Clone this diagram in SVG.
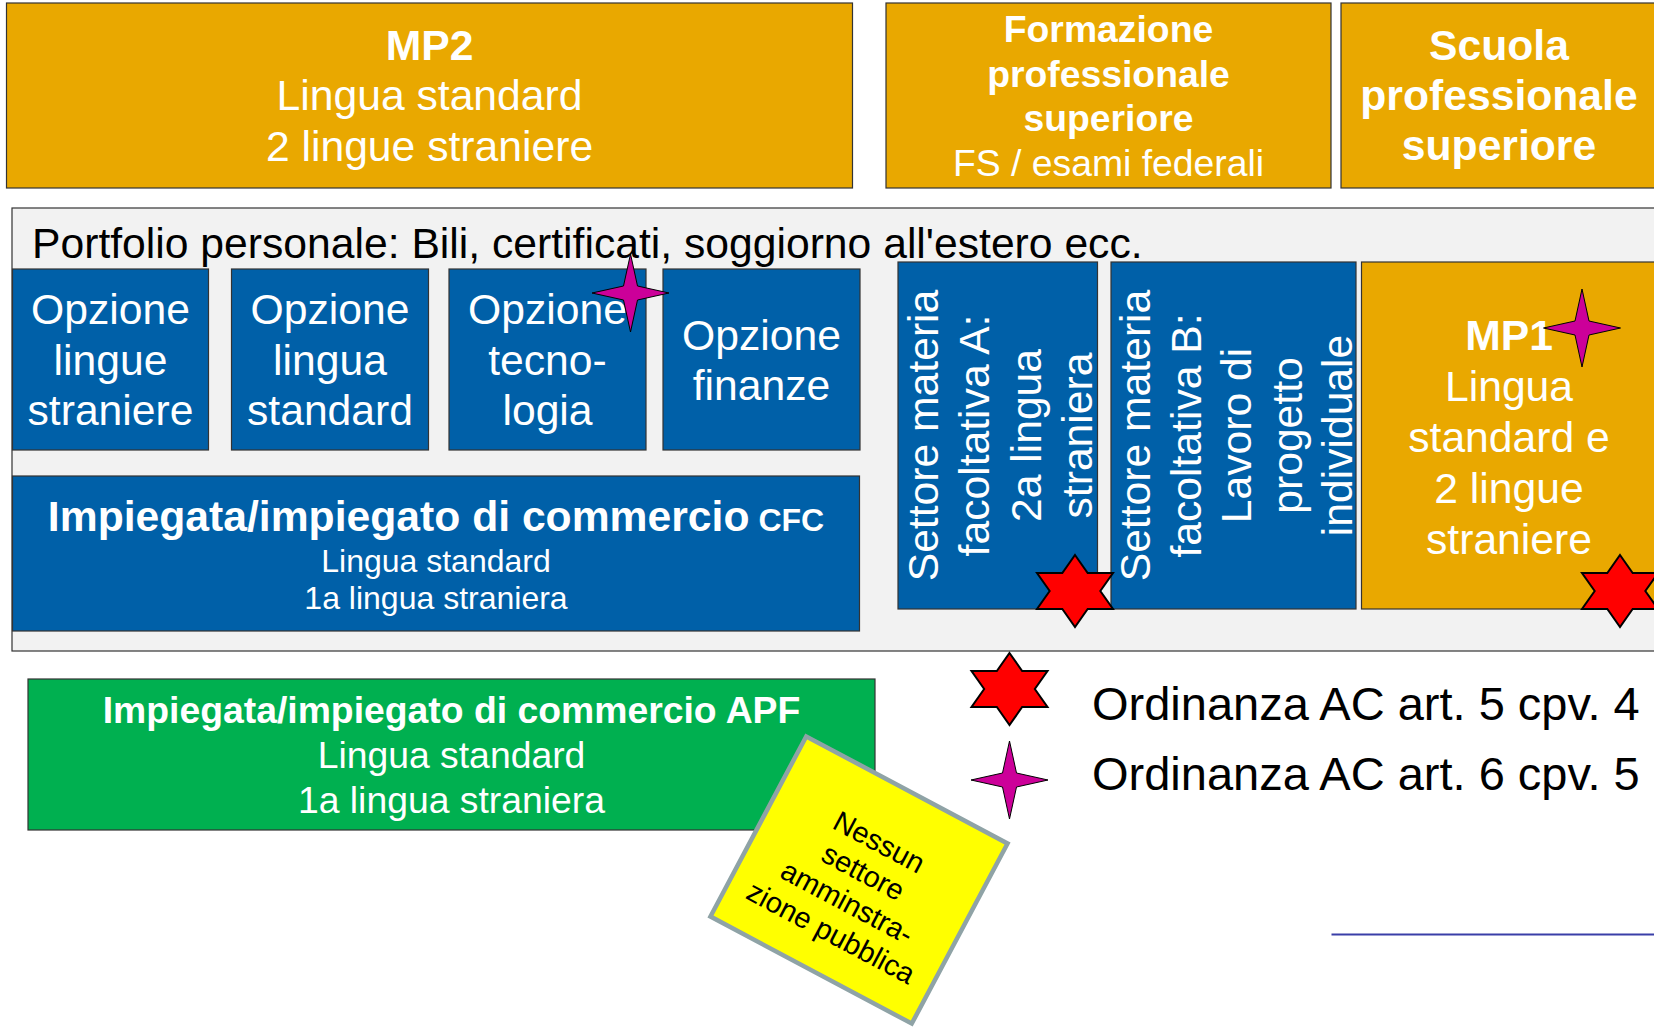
<svg xmlns="http://www.w3.org/2000/svg" width="1654" height="1027" viewBox="0 0 1654 1027">
<style>
text{font-family:"Liberation Sans",Arial,sans-serif;}
.box{stroke:#333;stroke-width:1.2;}
.or{fill:#E9A800;}
.bl{fill:#0060A8;}
.gr{fill:#00B050;}
.w{fill:#fff;text-anchor:middle;}
.b{font-weight:bold;}
.s43{font-size:42.67px;}
.s37{font-size:37.33px;}
.s32{font-size:32px;}
.red{fill:#FF0000;stroke:#000;stroke-width:2;stroke-linejoin:miter;}
.mag{fill:#CC0099;stroke:#000;stroke-width:1;}
</style>
<defs>
<path id="star6" d="M0,-36 L12.67,-18 L38,-18 L25.33,0 L38,18 L12.67,18 L0,36 L-12.67,18 L-38,18 L-25.33,0 L-38,-18 L-12.67,-18 Z"/>
<path id="star4" d="M0,-39 L7,-7 L38.5,0 L7,7 L0,39 L-7,7 L-38.5,0 L-7,-7 Z"/>
</defs>

<g id="mp2">
<rect class="box or" x="6.5" y="3" width="846" height="185"/>
<text class="w s43" x="429.5"><tspan class="b" x="429.5" y="60">MP2</tspan><tspan x="429.5" y="110">Lingua standard</tspan><tspan x="429.5" y="161">2 lingue straniere</tspan></text>
</g>

<g id="formazione">
<rect class="box or" x="886" y="3" width="445" height="185"/>
<text class="w s37" x="1108.5"><tspan class="b" x="1108.5" y="42">Formazione</tspan><tspan class="b" x="1108.5" y="86.5">professionale</tspan><tspan class="b" x="1108.5" y="131">superiore</tspan><tspan x="1108.5" y="175.5">FS / esami federali</tspan></text>
</g>

<g id="scuola">
<rect class="box or" x="1341" y="3" width="318" height="185"/>
<text class="w s43 b" x="1499"><tspan x="1499" y="60">Scuola</tspan><tspan x="1499" y="110">professionale</tspan><tspan x="1499" y="160">superiore</tspan></text>
</g>

<g id="portfolio">
<rect class="box" fill="#F2F2F2" x="12" y="208" width="1650" height="443"/>
<text class="s43" x="32" y="258" fill="#000">Portfolio personale: Bili, certificati, soggiorno all'estero ecc.</text>
</g>

<g id="opzione-lingue-straniere">
<rect class="box bl" x="12.5" y="269" width="196" height="181"/>
<text class="w s43"><tspan x="110.5" y="324">Opzione</tspan><tspan x="110.5" y="375">lingue</tspan><tspan x="110.5" y="425">straniere</tspan></text>
</g>

<g id="opzione-lingua-standard">
<rect class="box bl" x="231.5" y="269" width="197" height="181"/>
<text class="w s43"><tspan x="330" y="324">Opzione</tspan><tspan x="330" y="375">lingua</tspan><tspan x="330" y="425">standard</tspan></text>
</g>

<g id="opzione-tecnologia">
<rect class="box bl" x="449" y="269" width="197" height="181"/>
<text class="w s43"><tspan x="547.5" y="324">Opzione</tspan><tspan x="547.5" y="375">tecno-</tspan><tspan x="547.5" y="425">logia</tspan></text>
</g>

<g id="opzione-finanze">
<rect class="box bl" x="663" y="269" width="197" height="181"/>
<text class="w s43"><tspan x="761.5" y="350">Opzione</tspan><tspan x="761.5" y="400">finanze</tspan></text>
</g>

<g id="cfc">
<rect class="box bl" x="12.5" y="476" width="847" height="155"/>
<text class="w b" x="436" y="531"><tspan class="s43">Impiegata/impiegato di commercio</tspan><tspan class="s32"> CFC</tspan></text>
<text class="w s32"><tspan x="436" y="572">Lingua standard</tspan><tspan x="436" y="609">1a lingua straniera</tspan></text>
</g>

<g id="settore-a">
<rect class="box bl" x="898" y="262" width="199.5" height="347"/>
<text class="w s43" transform="translate(937.5,435.5) rotate(-90)" x="0" y="0">Settore materia</text>
<text class="w s43" transform="translate(989,435.5) rotate(-90)" x="0" y="0">facoltativa A:</text>
<text class="w s43" transform="translate(1040.5,435.5) rotate(-90)" x="0" y="0">2a lingua</text>
<text class="w s43" transform="translate(1092,435.5) rotate(-90)" x="0" y="0">straniera</text>
</g>

<g id="settore-b">
<rect class="box bl" x="1111" y="262" width="245" height="347"/>
<text class="w s43" transform="translate(1150,435.5) rotate(-90)" x="0" y="0">Settore materia</text>
<text class="w s43" transform="translate(1200.5,435.5) rotate(-90)" x="0" y="0">facoltativa B:</text>
<text class="w s43" transform="translate(1251,435.5) rotate(-90)" x="0" y="0">Lavoro di</text>
<text class="w s43" transform="translate(1301.5,435.5) rotate(-90)" x="0" y="0">progetto</text>
<text class="w s43" transform="translate(1352,435.5) rotate(-90)" x="0" y="0">individuale</text>
</g>

<g id="mp1">
<rect class="box or" x="1361.5" y="262" width="296" height="347"/>
<text class="w s43"><tspan class="b" x="1509" y="349.5">MP1</tspan><tspan x="1509" y="400.5">Lingua</tspan><tspan x="1509" y="451.5">standard e</tspan><tspan x="1509" y="502.5">2 lingue</tspan><tspan x="1509" y="553.5">straniere</tspan></text>
</g>

<g id="apf">
<rect class="box gr" x="28" y="679" width="847" height="151"/>
<text class="w s37"><tspan class="b" x="451.5" y="723">Impiegata/impiegato di commercio APF</tspan><tspan x="451.5" y="768">Lingua standard</tspan><tspan x="451.5" y="813">1a lingua straniera</tspan></text>
</g>

<g id="nota">
<g transform="translate(859,880) rotate(28)">
<rect x="-114" y="-102" width="228" height="204" fill="#FFFF00" stroke="#8FA3A6" stroke-width="4.5"/>
<text font-size="29" fill="#000" text-anchor="middle"><tspan x="0" y="-33">Nessun</tspan><tspan x="0" y="1">settore</tspan><tspan x="0" y="35">amminstra-</tspan><tspan x="0" y="69.5">zione pubblica</tspan></text>
</g>
</g>

<g id="stelle">
<use href="#star4" class="mag" transform="translate(630.5,293)"/>
<use href="#star4" class="mag" transform="translate(1582,328)"/>
<use href="#star6" class="red" transform="translate(1075,591)"/>
<use href="#star6" class="red" transform="translate(1620,591)"/>
</g>

<g id="legenda">
<use href="#star6" class="red" transform="translate(1009.5,689)"/>
<use href="#star4" class="mag" transform="translate(1009.5,780)"/>
<text font-size="47" fill="#000" x="1092" y="720">Ordinanza AC art. 5 cpv. 4</text>
<text font-size="47" fill="#000" x="1092" y="790">Ordinanza AC art. 6 cpv. 5</text>
</g>

<g id="connectors">
<line x1="1331.5" y1="934.5" x2="1660" y2="934.5" stroke="#3A3FA8" stroke-width="2.2"/>
</g>
</svg>
